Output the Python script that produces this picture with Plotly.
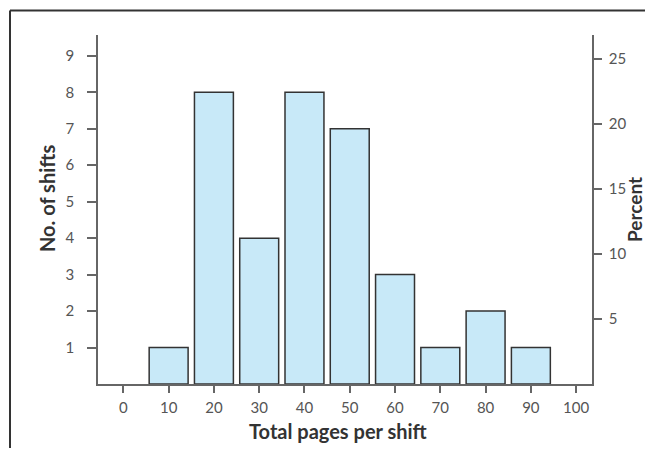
import plotly.graph_objects as go

# Data
bin_centers = [10, 20, 30, 40, 50, 60, 70, 80, 90]
shift_counts = [1, 8, 4, 8, 7, 3, 1, 2, 1]
x_tick_vals = [0, 10, 20, 30, 40, 50, 60, 70, 80, 90, 100]
left_tick_vals = [1, 2, 3, 4, 5, 6, 7, 8, 9]
right_tick_vals = [5, 10, 15, 20, 25]

total = sum(shift_counts)
percents = [c / total * 100 for c in shift_counts]

# page offset from default body margin
OFF = 8
W, H = 653 - 2 * OFF, 440
L, R, T = 98 - OFF, 53, 35 - OFF
PLOT_BOTTOM = 384 - OFF
B = H - PLOT_BOTTOM
PW = W - L - R
PH = H - T - B

fill = "#c8e9f8"
edge = "#333333"
axis_col = "#666666"
tick_font = dict(family="Lato, Open Sans, sans-serif", size=15, color="#555555")
title_font = dict(family="Lato, Open Sans, sans-serif", size=20, color="#333333")

fig = go.Figure()
fig.add_trace(go.Bar(
    x=bin_centers, y=shift_counts, width=8.6,
    marker=dict(color=fill, line=dict(color=edge, width=1.5)),
    showlegend=False, hoverinfo="x+y",
))
fig.add_trace(go.Scatter(
    x=bin_centers, y=percents, yaxis="y2", mode="markers",
    marker=dict(opacity=0), showlegend=False, hoverinfo="skip",
))

common = dict(tickcolor=axis_col, tickwidth=1.5, showline=True, linecolor=axis_col,
              linewidth=1.5, showgrid=False, zeroline=False, tickfont=tick_font,
              automargin=False, ticks="outside")

fig.update_layout(
    width=W, height=H,
    margin=dict(l=L, r=R, t=T, b=B),
    plot_bgcolor="white", paper_bgcolor="white",
    xaxis=dict(range=[-5.6, 103.5], tickvals=x_tick_vals, ticklen=7,
               ticklabelstandoff=2, **common),
    yaxis=dict(range=[0, 9.57], tickvals=left_tick_vals, ticklen=9,
               ticklabelstandoff=10, **common),
    yaxis2=dict(range=[0, 26.83], tickvals=right_tick_vals, ticklen=8,
                overlaying="y", side="right", ticklabelstandoff=4, **common),
)

# helpers: convert page pixel coordinates to paper coordinates
def px_x(p):
    return (p - OFF - L) / PW

def px_y(p):
    return (H - B - (p - OFF)) / PH

fig.add_annotation(text="<b>Total pages per shift</b>", xref="paper", yref="paper",
                   x=px_x(338), y=px_y(431), showarrow=False, font=title_font,
                   xanchor="center", yanchor="middle")
fig.add_annotation(text="<b>No. of shifts</b>", xref="paper", yref="paper",
                   x=px_x(47), y=px_y(199), showarrow=False, font=title_font,
                   textangle=-90, xanchor="center", yanchor="middle")
fig.add_annotation(text="<b>Percent</b>", xref="paper", yref="paper",
                   x=px_x(634), y=px_y(210), showarrow=False,
                   font=dict(family=title_font["family"], size=19, color="#333333"),
                   textangle=-90, xanchor="center", yanchor="middle")

# Outer frame (top and left edges of the panel)
frame = dict(color="#333333", width=2)
fig.add_shape(type="line", xref="paper", yref="paper", x0=px_x(10), x1=px_x(660),
              y0=px_y(10.5), y1=px_y(10.5), line=frame)
fig.add_shape(type="line", xref="paper", yref="paper", x0=px_x(10), x1=px_x(10),
              y0=px_y(470), y1=px_y(10.5), line=frame)

fig.write_html("out.html")
